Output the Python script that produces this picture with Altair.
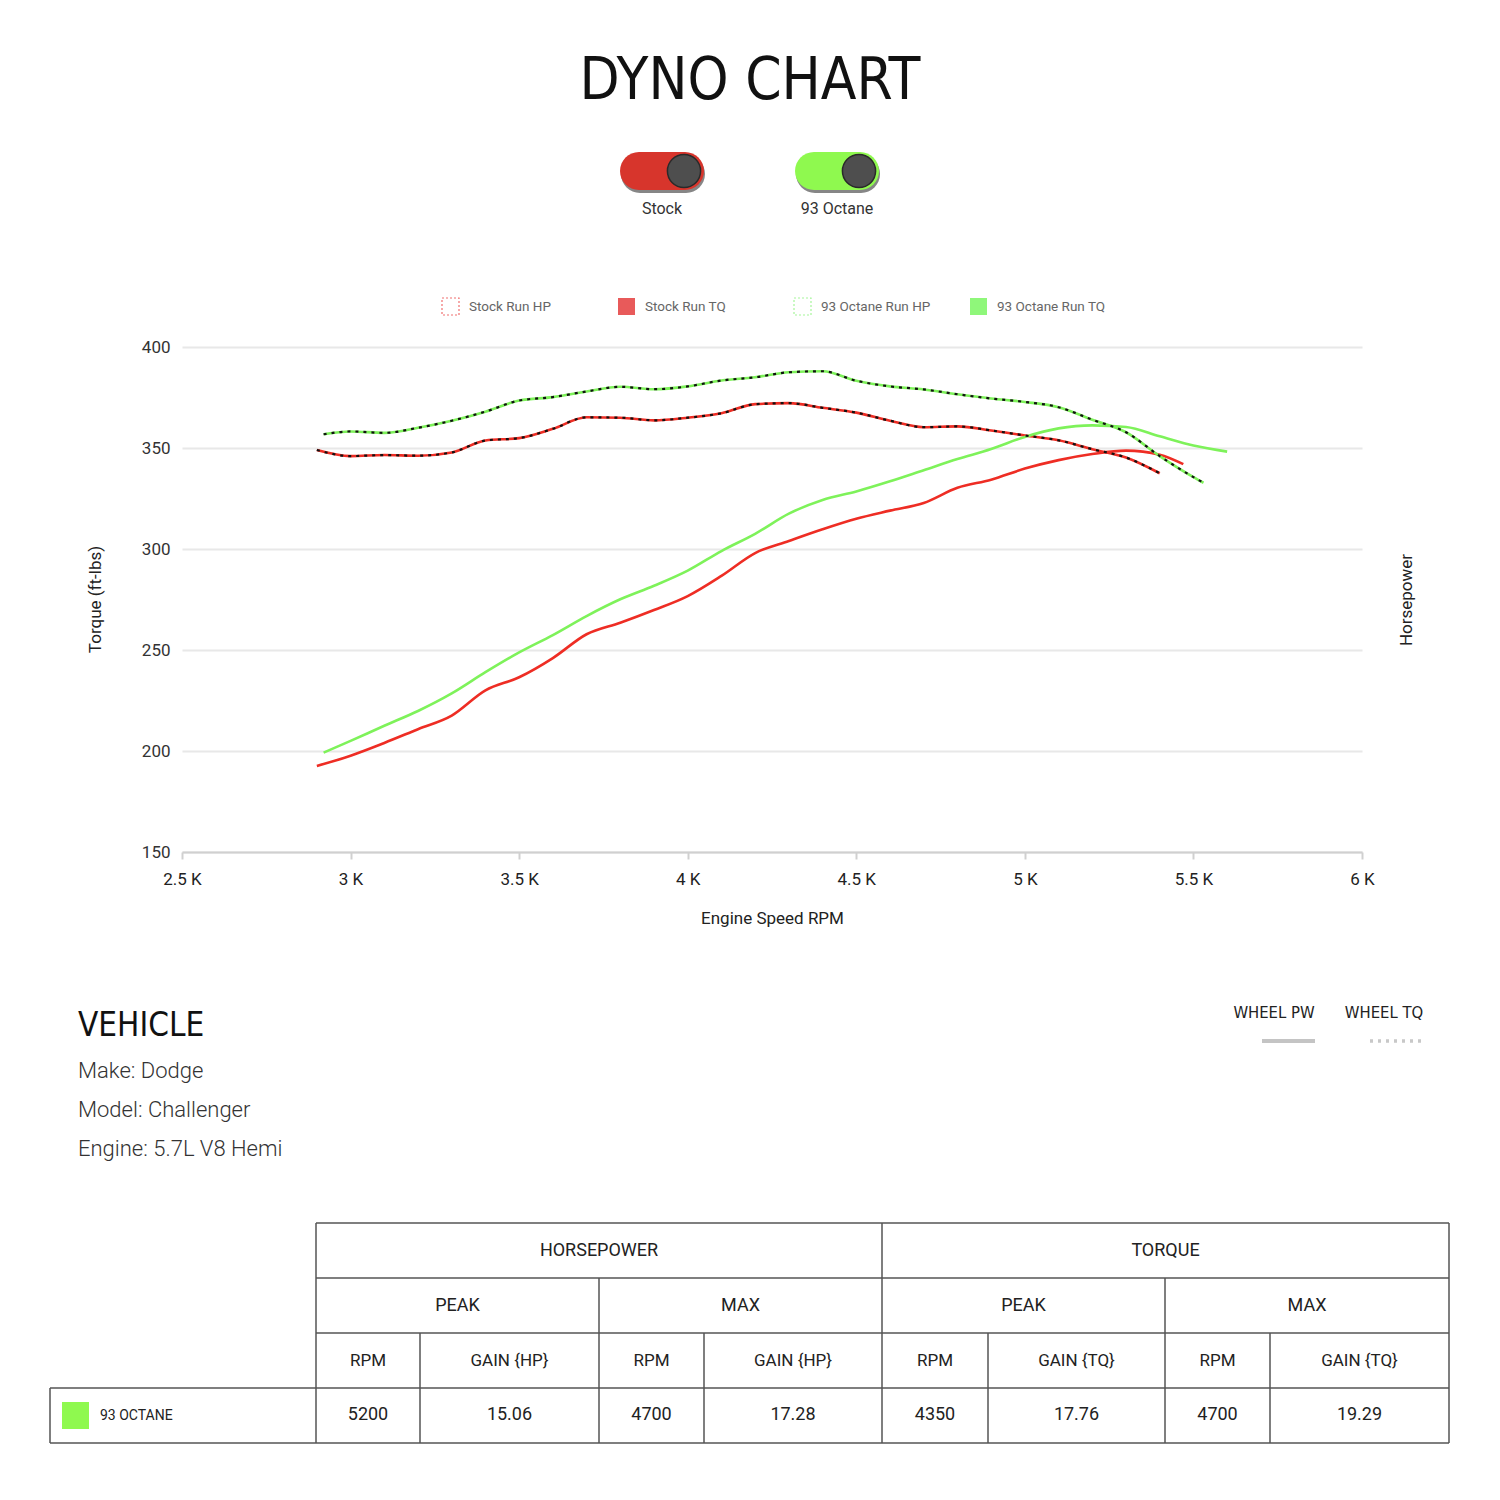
import altair as alt
import pandas as pd

# ---------------- data ----------------
rpm_stock_hp = [2900, 3000, 3100, 3200, 3300, 3400, 3500, 3600, 3700, 3800, 3900, 4000, 4100,
                4200, 4300, 4400, 4500, 4600, 4700, 4800, 4900, 5000, 5100, 5200, 5300, 5400]
stock_hp = [349.0, 346.0, 346.5, 346.2, 347.8, 353.7, 354.9, 359.5, 365.2, 365.0, 363.7, 365.0, 367.2,
            371.7, 372.2, 369.9, 367.5, 363.5, 360.3, 360.7, 358.7, 356.2, 353.8, 349.4, 345.3, 337.5]

rpm_stock_tq = [2900, 3000, 3100, 3200, 3300, 3400, 3500, 3600, 3700, 3800, 3900, 4000, 4100,
                4200, 4300, 4400, 4500, 4600, 4700, 4800, 4900, 5000, 5100, 5200, 5300, 5400, 5470]
stock_tq = [192.6, 197.7, 204.0, 210.8, 217.5, 230.0, 236.5, 246.0, 257.8, 263.5, 269.8, 276.7, 286.7,
            298.0, 304.0, 309.8, 315.0, 319.0, 322.8, 330.3, 334.3, 339.8, 344.0, 347.0, 348.7, 346.7, 342.0]

rpm_oct_hp = [2920, 3000, 3100, 3200, 3300, 3400, 3500, 3600, 3700, 3800, 3900, 4000, 4100, 4200,
              4300, 4400, 4500, 4600, 4700, 4800, 4900, 5000, 5100, 5200, 5300, 5400, 5500, 5530]
oct_hp = [356.8, 358.2, 357.5, 360.0, 363.5, 368.0, 373.5, 375.2, 378.0, 380.3, 379.1, 380.5, 383.4, 385.0,
          387.5, 388.0, 383.3, 380.5, 379.0, 376.6, 374.5, 372.8, 370.2, 364.0, 357.8, 346.0, 335.6, 332.8]

rpm_oct_tq = [2920, 3000, 3100, 3200, 3300, 3400, 3500, 3600, 3700, 3800, 3900, 4000, 4100, 4200,
              4300, 4400, 4500, 4600, 4700, 4800, 4900, 5000, 5100, 5200, 5300, 5400, 5500, 5600]
oct_tq = [199.2, 205.0, 212.5, 219.8, 228.5, 239.0, 248.8, 257.4, 266.8, 275.1, 281.8, 289.3, 299.0, 307.5,
          317.5, 324.3, 328.5, 333.5, 339.0, 344.5, 349.5, 355.5, 359.7, 361.2, 360.4, 355.8, 351.2, 348.2]

series_names = ["Stock Run HP", "Stock Run TQ", "93 Octane Run HP", "93 Octane Run TQ"]
series_colors = ["#ee2d24", "#ee2d24", "#7ef25a", "#7ef25a"]
legend_swatch = ["#f07070", "#e85a5a", "#a6f59a", "#8ff77a"]

x_ticks = [2500, 3000, 3500, 4000, 4500, 5000, 5500, 6000]
y_ticks = [150, 200, 250, 300, 350, 400]

toggle_names = ["Stock", "93 Octane"]
toggle_colors = ["#d7352c", "#8ff94f"]

vehicle_title = "VEHICLE"
vehicle_lines = ["Make: Dodge", "Model: Challenger", "Engine: 5.7L V8 Hemi"]

table_groups = ["HORSEPOWER", "TORQUE"]
table_sub = ["PEAK", "MAX", "PEAK", "MAX"]
table_cols = ["RPM", "GAIN {HP}", "RPM", "GAIN {HP}", "RPM", "GAIN {TQ}", "RPM", "GAIN {TQ}"]
table_vals = ["5200", "15.06", "4700", "17.28", "4350", "17.76", "4700", "19.29"]
row_label = "93 OCTANE"

# ---------------- build line table ----------------
frames = []
for name, rpms, vals in [("Stock Run HP", rpm_stock_hp, stock_hp),
                         ("Stock Run TQ", rpm_stock_tq, stock_tq),
                         ("93 Octane Run HP", rpm_oct_hp, oct_hp),
                         ("93 Octane Run TQ", rpm_oct_tq, oct_tq)]:
    frames.append(pd.DataFrame({"rpm": rpms, "value": vals, "series": name,
                                "dotted": name.endswith("HP")}))
df = pd.concat(frames, ignore_index=True)

FONT = "Roboto"
NARROW = "Liberation Sans Narrow, DejaVu Sans Condensed, Roboto, sans-serif"

xenc = alt.X("rpm:Q",
             scale=alt.Scale(domain=[2500, 6000], nice=False, zero=False),
             axis=alt.Axis(values=x_ticks, labelExpr="datum.value / 1000 + ' K'",
                           labelFlush=False, labelOverlap=False,
                           grid=False, domainColor="#d0d0d0", domainWidth=2,
                           tickColor="#d0d0d0", tickWidth=2, tickSize=7,
                           labelFont=FONT, labelFontSize=17, labelColor="#222",
                           labelPadding=12, title="Engine Speed RPM", titleFont=FONT,
                           titleFontSize=17, titleFontWeight="normal", titleColor="#222",
                           titleY=66, titleBaseline="middle"))
yenc = alt.Y("value:Q",
             scale=alt.Scale(domain=[150, 400], nice=False, zero=False),
             axis=alt.Axis(values=y_ticks, domain=False, ticks=False, grid=True,
                           gridColor="#e8e8e8", gridWidth=2,
                           labelFont=FONT, labelFontSize=17, labelColor="#333",
                           labelPadding=12, title="Torque (ft-lbs)", titleFont=FONT,
                           titleFontSize=17, titleFontWeight="normal", titleColor="#222",
                           titleX=-87, titleY=252, titleAngle=270, titleAlign="center",
                           titleBaseline="middle"))

lines = alt.Chart(df).mark_line(interpolate="monotone", strokeWidth=2.6).encode(
    x=xenc, y=yenc,
    color=alt.Color("series:N", scale=alt.Scale(domain=series_names, range=series_colors), legend=None),
)
dots = alt.Chart(df[df["dotted"]]).mark_line(
    interpolate="monotone", strokeWidth=2.2, strokeDash=[3, 5], color="#111", strokeCap="butt"
).encode(x=xenc, y=yenc, detail="series:N")

# ---------------- decoration helpers (page pixel coordinates) ----------------
one = pd.DataFrame({"k": [0]})
OX, OY = 182, 347


def T(X, Y, s, size, font=FONT, color="#222", align="center", baseline="middle",
      weight="normal", angle=0):
    return alt.Chart(one).mark_text(text=s, font=font, fontSize=size, color=color, align=align,
                                    baseline=baseline, fontWeight=weight, angle=angle).encode(
        x=alt.value(X - OX), y=alt.value(Y - OY))


def R(X1, Y1, X2, Y2, **kw):
    return alt.Chart(one).mark_rect(**kw).encode(
        x=alt.value(X1 - OX), x2=alt.value(X2 - OX), y=alt.value(Y1 - OY), y2=alt.value(Y2 - OY))


def L(X1, Y1, X2, Y2, **kw):
    return alt.Chart(one).mark_rule(**kw).encode(
        x=alt.value(X1 - OX), x2=alt.value(X2 - OX), y=alt.value(Y1 - OY), y2=alt.value(Y2 - OY))


def P(X, Y, **kw):
    return alt.Chart(one).mark_point(**kw).encode(x=alt.value(X - OX), y=alt.value(Y - OY))


deco = []
# title
deco.append(T(750, 82, "DYNO CHART", 58, font=NARROW, color="#111", weight=300))

# toggles
for i, (name, col) in enumerate(zip(toggle_names, toggle_colors)):
    x0 = 620 + i * 175
    deco.append(R(x0 + 1, 155, x0 + 85, 193, fill="#222", opacity=0.55, cornerRadius=19))
    deco.append(R(x0, 152, x0 + 84, 190, fill=col, cornerRadius=19))
    deco.append(P(x0 + 64, 171, shape="circle", filled=True, size=1100, fill="#4e4e4e",
                  stroke="#2a2a2a", strokeWidth=1.5, opacity=1))
    deco.append(T(x0 + 42, 209, name, 16, color="#333"))

# legend
leg_x = [442, 618, 794, 970]
for i, name in enumerate(series_names):
    x0 = leg_x[i]
    if name.endswith("HP"):
        deco.append(R(x0, 298, x0 + 17, 315, fill="white", stroke=legend_swatch[i],
                      strokeDash=[2, 2], strokeWidth=1.2))
    else:
        deco.append(R(x0, 298, x0 + 17, 315, fill=legend_swatch[i]))
    deco.append(T(x0 + 27, 307, name, 13.5, color="#666", align="left"))

# right axis title
deco.append(T(1407, 600, "Horsepower", 17, angle=270))

# vehicle block
deco.append(T(78, 1026, vehicle_title, 33, font=NARROW, color="#111", align="left", weight=300))
for j, s in enumerate(vehicle_lines):
    deco.append(T(78, 1071 + j * 39, s, 22, color="#333", align="left", weight=300))

# wheel legend
deco.append(T(1274, 1013, "WHEEL PW", 16.5, font=NARROW, color="#222"))
deco.append(R(1262, 1039, 1315, 1043, fill="#c4c4c4"))
deco.append(T(1384, 1013, "WHEEL TQ", 16.5, font=NARROW, color="#222"))
deco.append(L(1370, 1041, 1424, 1041, color="#c8c8c8", strokeWidth=3.5, strokeDash=[3, 5]))

# table
col_edges = [316, 420, 599, 704, 882, 988, 1165, 1270, 1449]
row_edges = [1223, 1278, 1333, 1388, 1443]
LC = "#555"
LW = 1.5
for r in row_edges[:3]:
    deco.append(L(316, r, 1449, r, color=LC, strokeWidth=LW))
for r in row_edges[3:]:
    deco.append(L(50, r, 1449, r, color=LC, strokeWidth=LW))
deco.append(L(50, 1388, 50, 1443, color=LC, strokeWidth=LW))
for c in [316, 882, 1449]:
    deco.append(L(c, 1223, c, 1443, color=LC, strokeWidth=LW))
for c in [599, 1165]:
    deco.append(L(c, 1278, c, 1443, color=LC, strokeWidth=LW))
for c in [420, 704, 988, 1270]:
    deco.append(L(c, 1333, c, 1443, color=LC, strokeWidth=LW))

for g, s in enumerate(table_groups):
    cx = (col_edges[g * 4] + col_edges[g * 4 + 4]) / 2
    deco.append(T(cx, 1251, s, 18))
for g, s in enumerate(table_sub):
    cx = (col_edges[g * 2] + col_edges[g * 2 + 2]) / 2
    deco.append(T(cx, 1306, s, 18))
for g, s in enumerate(table_cols):
    cx = (col_edges[g] + col_edges[g + 1]) / 2
    deco.append(T(cx, 1361, s, 17))
for g, s in enumerate(table_vals):
    cx = (col_edges[g] + col_edges[g + 1]) / 2
    deco.append(T(cx, 1415, s, 18))
deco.append(R(62, 1402, 89, 1429, fill="#8ff94f"))
deco.append(T(100, 1416, row_label, 14, align="left"))

chart = alt.layer(lines, dots, *deco).properties(
    width=1180, height=505,
    padding={"left": 174, "top": 339, "right": 130, "bottom": 640},
    autosize=alt.AutoSizeParams(type="none"),
    background="white",
).configure_view(stroke=None)

chart.save("out.html", embed_options={"renderer": "svg", "actions": False})
